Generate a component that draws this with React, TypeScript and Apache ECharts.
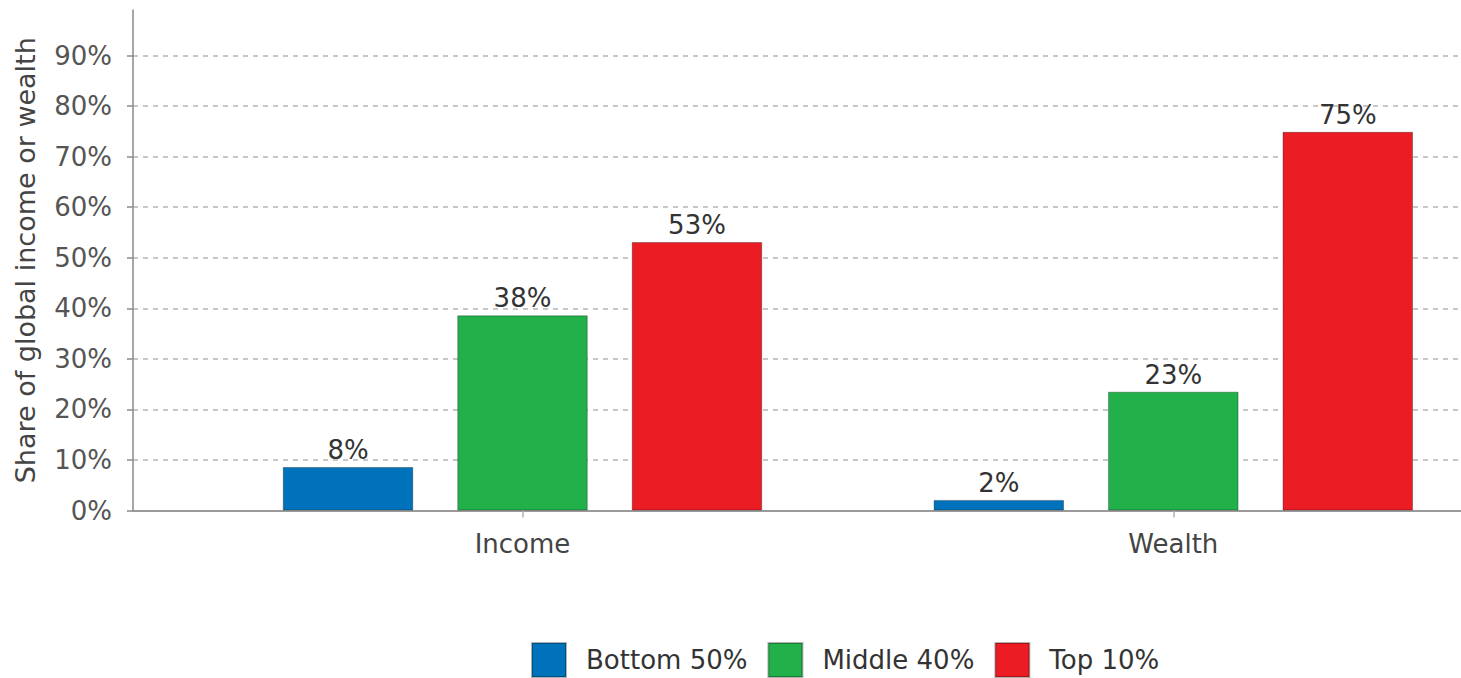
import React, { useEffect, useRef } from "react";
import * as echarts from "echarts";

const categories = ["Income", "Wealth"];
const seriesNames = ["Bottom 50%", "Middle 40%", "Top 10%"];
const bottom50 = [8.6, 2.1];
const middle40 = [38.6, 23.5];
const top10 = [53.1, 74.9];
const bottom50Labels = ["8%", "2%"];
const middle40Labels = ["38%", "23%"];
const top10Labels = ["53%", "75%"];
const yTicks = [0, 10, 20, 30, 40, 50, 60, 70, 80, 90];
const colors = ["#0072bc", "#22b04b", "#ec1c24"];

const FONT = "DejaVu Sans";

export default function App() {
  const ref = useRef<HTMLDivElement>(null);
  useEffect(() => {
    if (!ref.current) return;
    const chart = echarts.init(ref.current, null, { renderer: "svg" });
    const values = [bottom50, middle40, top10];
    const labels = [bottom50Labels, middle40Labels, top10Labels];
    const option: any = {
      animation: false,
      backgroundColor: "#ffffff",
      legend: {
        left: 531,
        top: 642,
        padding: 0,
        itemGap: 20,
        itemWidth: 34,
        itemHeight: 34,
        icon: "rect",
        data: seriesNames,
        textStyle: {
          fontFamily: FONT,
          fontSize: 26,
          color: "#333",
          padding: [0, 0, 0, 15],
        },
      },
      grid: [
        { left: 133, right: 0, top: 10, bottom: 167.5 },
        { left: 522.5, width: 650.8, top: 10, bottom: 167.5 },
      ],
      xAxis: [
        {
          gridIndex: 0,
          type: "value",
          min: 0,
          max: 1,
          axisLabel: { show: false },
          axisTick: { show: false },
          splitLine: { show: false },
          axisLine: { show: true, lineStyle: { color: "#9a9a9a", width: 2 } },
        },
        {
          gridIndex: 1,
          type: "category",
          data: categories,
          boundaryGap: false,
          axisLine: { show: false },
          axisTick: {
            show: true,
            length: 7,
            lineStyle: { color: "#b0b0b0", width: 1.5 },
          },
          splitLine: { show: false },
          axisLabel: {
            margin: 20,
            fontFamily: FONT,
            fontSize: 26,
            color: "#444",
          },
        },
      ],
      yAxis: [
        {
          gridIndex: 0,
          type: "value",
          min: 0,
          max: 99,
          interval: 10,
          name: "Share of global income or wealth",
          nameLocation: "middle",
          nameGap: 94,
          nameTextStyle: { fontFamily: FONT, fontSize: 27, color: "#444" },
          axisLine: { show: true, lineStyle: { color: "#8a8a8a", width: 1.5 } },
          axisTick: {
            show: true,
            length: 6,
            customValues: yTicks,
            lineStyle: { color: "#8a8a8a", width: 1.5 },
          },
          axisLabel: {
            margin: 21,
            customValues: yTicks,
            fontFamily: FONT,
            fontSize: 26,
            color: "#555",
            formatter: (v: number) => `${v}%`,
          },
          splitLine: {
            show: true,
            lineStyle: { color: "#b5b5b5", width: 1.5, type: [5, 5] },
          },
        },
        {
          gridIndex: 1,
          type: "value",
          min: 0,
          max: 99,
          interval: 10,
          show: false,
          splitLine: { show: false },
        },
      ],
      series: seriesNames.map((name, i) => ({
        name,
        type: "bar",
        xAxisIndex: 1,
        yAxisIndex: 1,
        clip: false,
        data: values[i],
        barWidth: 130.5,
        barGap: "33.7%",
        itemStyle: {
          color: colors[i],
          borderColor: "rgba(0,0,0,0.3)",
          borderWidth: 1,
        },
        label: {
          show: true,
          position: "top",
          distance: 4,
          fontFamily: FONT,
          fontSize: 26,
          color: "#333",
          formatter: (p: any) => labels[i][p.dataIndex],
        },
      })),
    };
    chart.setOption(option);
    return () => chart.dispose();
  }, []);
  return (
    <div
      ref={ref}
      style={{ position: "absolute", left: 0, top: 0, width: 1461, height: 678 }}
    />
  );
}
